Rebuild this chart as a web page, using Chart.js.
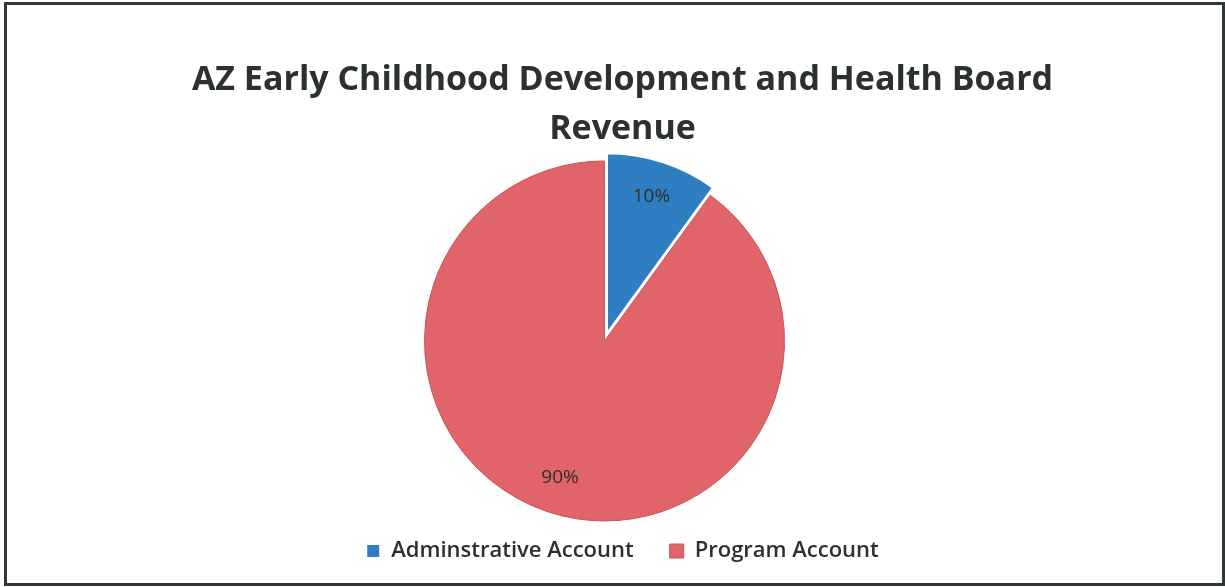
<!DOCTYPE html>
<html>
<head>
<meta charset="utf-8">
<script src="https://cdn.jsdelivr.net/npm/chart.js@4/dist/chart.umd.min.js"></script>
<style>
    html, body { margin: 0; padding: 0; background: #ffffff; }
    #wrap { position: relative; width: 1225px; height: 587px; }
    #frame { position: absolute; left: 4px; top: 2px; width: 1215px; height: 578px; border: 3px solid #2f3833; pointer-events: none; }
</style>
</head>
<body>
<div id="wrap">
    <canvas id="pieChart" width="1225" height="587"></canvas>
    <div id="frame"></div>
</div>
<script>
// 資料
const categories = ['Adminstrative Account', 'Program Account'];
const shares = [10, 90];
const sliceColors = ['#2f7ec2', '#e0646a'];
const titleLines = ['AZ Early Childhood Development and Health Board', 'Revenue'];

const EXPLODE = 8;     // 藍色扇形拉出的距離
const PIE_SHIFT = 18;  // 圓餅相對標題往左移

// 把圓餅往左挪一點 (標題維持置中)
const shiftPie = {
    id: 'shiftPie',
    afterLayout: function(chart) {
        chart.chartArea.left -= PIE_SHIFT;
        chart.chartArea.right -= PIE_SHIFT;
    },
    afterUpdate: function(chart) {
        const arc = chart.getDatasetMeta(0).data[0];
        if (!arc || arc._exploded) return;
        const orig = arc.draw;
        arc.draw = function(ctx) {
            const mid = (this.startAngle + this.endAngle) / 2;
            ctx.save();
            ctx.translate(Math.cos(mid) * EXPLODE, Math.sin(mid) * EXPLODE);
            orig.call(this, ctx);
            ctx.restore();
        };
        arc._exploded = true;
    }
};

// 百分比標籤 (畫在扇形內)
const sliceLabels = {
    id: 'sliceLabels',
    afterDatasetsDraw: function(chart) {
        const ctx = chart.ctx;
        const meta = chart.getDatasetMeta(0);
        const total = shares.reduce((a, b) => a + b, 0);
        ctx.save();
        ctx.font = '19px "Open Sans"';
        ctx.fillStyle = '#2b2f2c';
        ctx.textAlign = 'center';
        ctx.textBaseline = 'middle';
        meta.data.forEach((arc, i) => {
            const p = arc.getProps(['x', 'y', 'startAngle', 'endAngle', 'outerRadius']);
            const mid = (p.startAngle + p.endAngle) / 2;
            const r = p.outerRadius * 0.8 + (i === 0 ? EXPLODE : 0);
            const pct = Math.round(shares[i] / total * 100) + '%';
            ctx.fillText(pct, p.x + Math.cos(mid) * r, p.y + Math.sin(mid) * r);
        });
        ctx.restore();
    }
};

const chart = new Chart(document.getElementById('pieChart').getContext('2d'), {
    type: 'pie',
    data: {
        labels: categories,
        datasets: [{
            data: shares,
            backgroundColor: sliceColors,
            borderColor: ['#ffffff', '#c95459'],
            borderWidth: [2, 1],
            radius: 180
        }]
    },
    options: {
        responsive: false,
        animation: false,
        layout: { padding: { left: 20, right: 0, top: 0, bottom: 15 } },
        plugins: {
            title: {
                display: true,
                text: titleLines,
                color: '#2b312d',
                font: { family: '"Open Sans"', size: 34, weight: 'bold', lineHeight: 1.44 },
                padding: { top: 56, bottom: 24 }
            },
            legend: {
                position: 'bottom',
                labels: {
                    color: '#2b312d',
                    font: { family: '"Open Sans"', size: 22, weight: '600' },
                    boxWidth: 14,
                    boxHeight: 14,
                    padding: 36
                }
            },
            tooltip: { enabled: false }
        }
    },
    plugins: [shiftPie, sliceLabels]
});
</script>
</body>
</html>
